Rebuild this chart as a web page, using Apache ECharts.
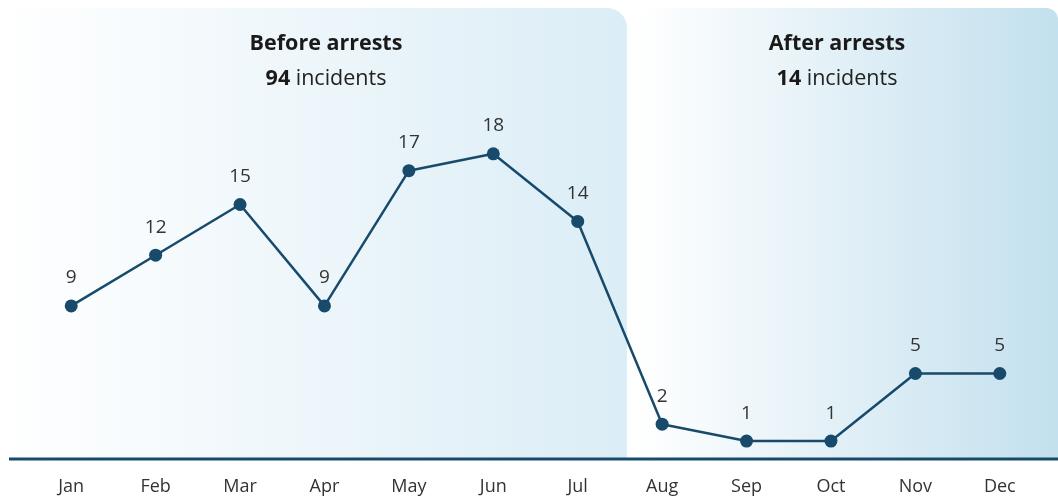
<!DOCTYPE html>
<html>
<head>
<meta charset="utf-8">
<script src="https://cdn.jsdelivr.net/npm/echarts@6/dist/echarts.min.js"></script>
<style>
html,body{margin:0;padding:0;background:#fff;}
#c{width:1058px;height:500px;}
</style>
</head>
<body>
<div id="c"></div>
<script>
const months = ['Jan','Feb','Mar','Apr','May','Jun','Jul','Aug','Sep','Oct','Nov','Dec'];
const incidents = [9, 12, 15, 9, 17, 18, 14, 2, 1, 1, 5, 5];
const periodTitles = ['Before arrests', 'After arrests'];
const periodTotals = [94, 14];

const FONT = '"Open Sans", "Noto Sans", sans-serif';
const NAVY = '#174a6b';

const chart = echarts.init(document.getElementById('c'), null, {renderer: 'canvas'});

function periodTitle(i, x) {
  return {
    text: periodTitles[i],
    subtext: '{b|' + periodTotals[i] + '} {r|incidents}',
    left: x, top: 28, textAlign: 'center', itemGap: 13,
    textStyle: {fontFamily: FONT, fontSize: 21.5, fontWeight: 'bold', color: '#1a1a1a'},
    subtextStyle: {
      fontFamily: FONT, fontSize: 21.5, color: '#222',
      rich: {
        b: {fontFamily: FONT, fontSize: 21.5, fontWeight: 'bold', color: '#1a1a1a'},
        r: {fontFamily: FONT, fontSize: 21.5, color: '#222'}
      }
    }
  };
}

chart.setOption({
  animation: false,
  backgroundColor: '#ffffff',
  title: [periodTitle(0, 321), periodTitle(1, 832)],
  graphic: [
    {
      type: 'rect', z: -10, silent: true,
      shape: {x: 0, y: 8, width: 627, height: 451, r: [0, 20, 0, 0]},
      style: {fill: new echarts.graphic.LinearGradient(0, 0, 1, 0, [
        {offset: 0, color: '#ffffff'}, {offset: 1, color: '#dbedf6'}
      ])}
    },
    {
      type: 'rect', z: -10, silent: true,
      shape: {x: 636, y: 8, width: 422, height: 451, r: [20, 12, 0, 0]},
      style: {fill: new echarts.graphic.LinearGradient(0, 0, 1, 0, [
        {offset: 0, color: '#ffffff'}, {offset: 1, color: '#c3e0ee'}
      ])}
    },
    {
      type: 'line', z: 5, silent: true,
      shape: {x1: 9, y1: 459, x2: 1058, y2: 459},
      style: {stroke: NAVY, lineWidth: 3}
    }
  ],
  grid: {left: 29, right: 16, top: 120, bottom: 42, containLabel: false},
  xAxis: {
    type: 'category', data: months, boundaryGap: true,
    axisLine: {show: false}, axisTick: {show: false},
    axisLabel: {fontFamily: FONT, fontSize: 18, color: '#333', margin: 20}
  },
  yAxis: {
    type: 'value', min: 0, max: 20, show: false,
    splitLine: {show: false}
  },
  series: [{
    type: 'line', data: incidents,
    lineStyle: {color: NAVY, width: 2.5},
    itemStyle: {color: NAVY},
    symbol: 'circle', symbolSize: 13,
    label: {
      show: true, position: 'top', distance: 12,
      fontFamily: FONT, fontSize: 19, color: '#333'
    },
    z: 10
  }]
});
</script>
</body>
</html>
